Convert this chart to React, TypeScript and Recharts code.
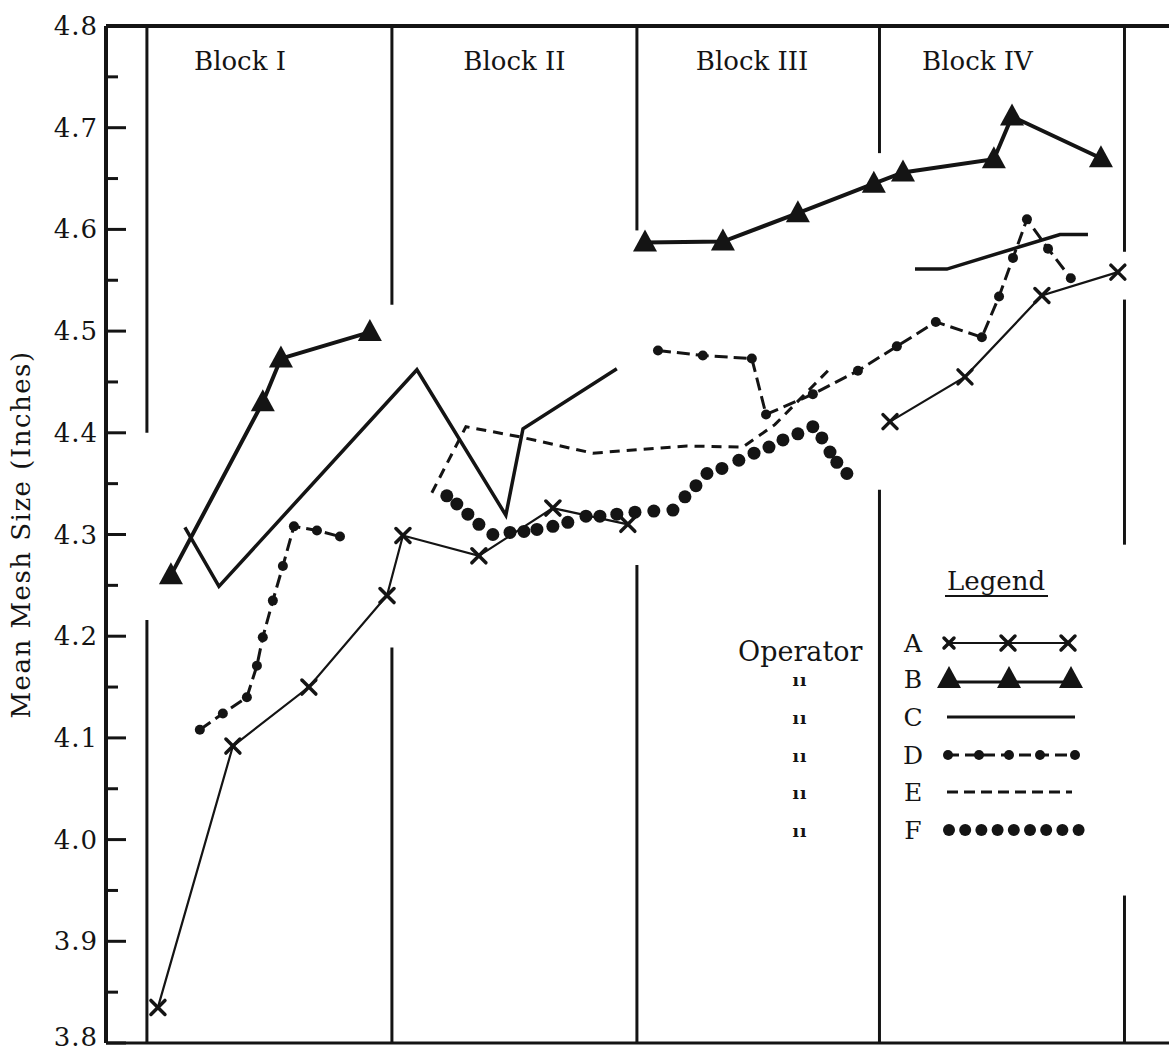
import {
  ComposedChart,
  Legend,
  Line,
  ReferenceDot,
  ReferenceLine,
  XAxis,
  YAxis,
} from 'recharts'

const ink = '#141414'
const serif = '"DejaVu Serif", serif'

// position along the trial (one block = 10 units) and mean mesh size
const runA = [0.45, 3.51, 6.61, 9.8, 10.45, 13.55, 16.57, 19.63, 25, 30.33, 33.39, 36.53, 39.63]
const meshA = [3.835, 4.092, 4.15, 4.24, 4.299, 4.279, 4.326, 4.31, null, 4.411, 4.455, 4.535, 4.558]

const runB = [0.98, 4.73, 5.47, 9.1, 15, 20.33, 23.51, 26.57, 29.67, 30.86, 34.57, 35.31, 38.94]
const meshB = [4.26, 4.43, 4.473, 4.499, null, 4.587, 4.588, 4.616, 4.645, 4.656, 4.669, 4.711, 4.67]

const runC = [1.55, 2.94, 11.02, 14.65, 15.35, 19.18, 25, 31.35, 32.65, 37.27, 38.41]
const meshC = [4.307, 4.249, 4.462, 4.319, 4.404, 4.463, null, 4.561, 4.561, 4.595, 4.595]

const runD = [
  2.16, 3.1, 4.08, 4.49, 4.73, 5.14, 5.55, 6.0, 6.94, 7.88, 14, 20.86, 22.69, 24.69, 25.27, 27.18,
  29.02, 30.61, 32.2, 34.08, 34.78, 35.35, 35.92, 36.78, 37.71,
]
const meshD = [
  4.108, 4.124, 4.14, 4.171, 4.199, 4.235, 4.269, 4.308, 4.304, 4.298, null, 4.481, 4.476, 4.473,
  4.418, 4.438, 4.461, 4.485, 4.509, 4.494, 4.534, 4.572, 4.61, 4.581, 4.552,
]

const runE = [11.63, 13.02, 15.22, 18.2, 22.04, 24.33, 25.63, 27.96]
const meshE = [4.341, 4.406, 4.396, 4.38, 4.387, 4.386, 4.408, 4.465]

const runF = [
  12.24, 12.65, 13.1, 13.55, 14.12, 14.82, 15.39, 15.92, 16.57, 17.18, 17.92, 18.49, 19.18, 19.92,
  20.69, 21.47, 21.96, 22.41, 22.86, 23.47, 24.16, 24.78, 25.39, 25.96, 26.57, 27.18, 27.55, 27.88,
  28.16, 28.57,
]
const meshF = [
  4.338, 4.33, 4.32, 4.31, 4.3, 4.302, 4.303, 4.305, 4.308, 4.312, 4.318, 4.318, 4.32, 4.322, 4.323,
  4.324, 4.337, 4.348, 4.36, 4.365, 4.373, 4.38, 4.386, 4.393, 4.399, 4.406, 4.395, 4.381, 4.371,
  4.36,
]

const meshTicks = [
  3.8, 3.85, 3.9, 3.95, 4.0, 4.05, 4.1, 4.15, 4.2, 4.25, 4.3, 4.35, 4.4, 4.45, 4.5, 4.55, 4.6, 4.65,
  4.7, 4.75, 4.8,
]

const operators = ['A', 'B', 'C', 'D', 'E', 'F']
const blockNames = ['Block I', 'Block II', 'Block III', 'Block IV']
const blockLabelRun = [3.8, 15.0, 24.7, 33.9]
const blockLabelMesh = 4.766

// block divider lines, broken where the curves pass
const blockEdges = [0, 10, 20, 29.9, 39.9]
const edgePieces = [
  [[4.8, 4.4], [4.216, 3.8]],
  [[4.8, 4.526], [4.189, 3.8]],
  [[4.8, 4.599], [4.27, 3.8]],
  [[4.8, 4.675], [4.344, 3.8]],
  [[4.8, 4.578], [4.531, 4.29], [3.945, 3.8]],
]

type Point = { x: number; y: number | null }
const zip = (xs: number[], ys: (number | null)[]): Point[] => xs.map((x, i) => ({ x, y: ys[i] }))

const seriesA = zip(runA, meshA)
const seriesB = zip(runB, meshB)
const seriesC = zip(runC, meshC)
const seriesD = zip(runD, meshD)
const seriesE = zip(runE, meshE)
const seriesF = zip(runF, meshF)

const isMajor = (v: number) => Math.round(v * 100) % 10 === 0

function LeftTick(props: any) {
  const { x, y, payload } = props
  const v = payload.value as number
  const major = isMajor(v)
  // the bottom label sits a little higher so it stays inside the page
  const dy = v <= 3.8 ? 3 : 9
  return (
    <g>
      <line x1={x + 6} x2={x + 6 + (major ? 20 : 12)} y1={y} y2={y} stroke={ink} strokeWidth={3} />
      {major && (
        <text
          x={x - 2}
          y={y}
          dy={dy}
          textAnchor="end"
          fontFamily={serif}
          fontSize={26}
          letterSpacing={1}
          fill={ink}
        >
          {v.toFixed(1)}
        </text>
      )}
    </g>
  )
}

function RightTick(props: any) {
  const { x, y, payload } = props
  const major = isMajor(payload.value)
  return <line x1={x} x2={x - (major ? 21 : 14)} y1={y} y2={y} stroke={ink} strokeWidth={3} />
}

function Cross({ cx, cy, s = 7 }: { cx: number; cy: number; s?: number }) {
  return (
    <g stroke={ink} strokeWidth={3.5} strokeLinecap="round">
      <line x1={cx - s} y1={cy - s} x2={cx + s} y2={cy + s} />
      <line x1={cx - s} y1={cy + s} x2={cx + s} y2={cy - s} />
    </g>
  )
}

function Triangle({ cx, cy }: { cx: number; cy: number }) {
  return <path d={`M${cx},${cy - 13} L${cx + 12},${cy + 9} L${cx - 12},${cy + 9} Z`} fill={ink} />
}

const crossDot = (p: any) =>
  p.cy == null || p.payload?.y == null ? <g key={p.key ?? p.index} /> : <Cross key={p.key ?? p.index} cx={p.cx} cy={p.cy} />

const triangleDot = (p: any) =>
  p.cy == null || p.payload?.y == null ? <g key={p.key ?? p.index} /> : <Triangle key={p.key ?? p.index} cx={p.cx} cy={p.cy} />

function OperatorLegend() {
  const rows = [103, 139, 177, 215, 252, 290]
  const s0 = 247
  const s1 = 375
  const mid = (s0 + s1) / 2
  return (
    <svg width={469} height={330} style={{ display: 'block', overflow: 'visible' }}>
      <text x={247} y={50} fontFamily={serif} fontSize={26} fill={ink}>
        Legend
      </text>
      <line x1={245} x2={348} y1={56} y2={56} stroke={ink} strokeWidth={2} />
      <text x={38} y={121} fontFamily={serif} fontSize={27} fill={ink}>
        Operator
      </text>
      {operators.map((op, i) => (
        <text key={op} x={213} y={rows[i] + 9} textAnchor="middle" fontFamily={serif} fontSize={25} fill={ink}>
          {op}
        </text>
      ))}
      {rows.slice(1).map((r) => (
        <text key={r} x={100} y={r + 7} textAnchor="middle" fontFamily={serif} fontWeight="bold" fontSize={17} letterSpacing={1} fill={ink}>
          ıı
        </text>
      ))}
      {/* A */}
      <line x1={s0} x2={s1 - 6} y1={rows[0]} y2={rows[0]} stroke={ink} strokeWidth={2} />
      <Cross cx={s0 + 2} cy={rows[0]} s={5} />
      <Cross cx={mid - 3} cy={rows[0]} />
      <Cross cx={s1 - 7} cy={rows[0]} />
      {/* B */}
      <line x1={s0} x2={s1 - 4} y1={rows[1] + 3} y2={rows[1] + 3} stroke={ink} strokeWidth={3} />
      <Triangle cx={s0 + 2} cy={rows[1]} />
      <Triangle cx={mid - 2} cy={rows[1]} />
      <Triangle cx={s1 - 4} cy={rows[1]} />
      {/* C */}
      <line x1={s0} x2={s1} y1={rows[2]} y2={rows[2]} stroke={ink} strokeWidth={3} />
      {/* D */}
      <line x1={s0} x2={s1} y1={rows[3]} y2={rows[3]} stroke={ink} strokeWidth={3} strokeDasharray="12 6" />
      {[0, 31, 61, 92, 127].map((d) => (
        <circle key={d} cx={s0 + 1 + d} cy={rows[3]} r={5} fill={ink} />
      ))}
      {/* E */}
      <line x1={s0} x2={s1 - 3} y1={rows[4]} y2={rows[4]} stroke={ink} strokeWidth={3} strokeDasharray="11 6" />
      {/* F */}
      {[0, 1, 2, 3, 4, 5, 6, 7, 8].map((k) => (
        <circle key={k} cx={s0 + 2 + k * 16.2} cy={rows[5]} r={6} fill={ink} />
      ))}
    </svg>
  )
}

const axisTitle = (props: any) => {
  const vb = props.viewBox
  const cx = vb.x + 11
  const cy = vb.y + vb.height / 2
  return (
    <text
      x={cx}
      y={cy}
      transform={`rotate(-90 ${cx} ${cy})`}
      textAnchor="middle"
      dominantBaseline="central"
      fontFamily={serif}
      fontSize={26}
      letterSpacing={1.5}
      fill={ink}
    >
      Mean Mesh Size (Inches)
    </text>
  )
}

export default function App() {
  return (
    <div
      style={{
        position: 'absolute',
        left: 0,
        top: 0,
        width: 1169,
        height: 1055,
        overflow: 'hidden',
        background: '#fff',
      }}
    >
      <ComposedChart width={1190} height={1055} margin={{ top: 26, right: 17, left: 10, bottom: 12 }}>
        <XAxis type="number" dataKey="x" domain={[-1.67, 41.84]} hide allowDataOverflow />
        <YAxis
          type="number"
          domain={[3.8, 4.8]}
          ticks={meshTicks}
          interval={0}
          width={96}
          tickSize={0}
          tickMargin={6}
          tickLine={false}
          tick={<LeftTick />}
          axisLine={{ stroke: ink, strokeWidth: 4 }}
          allowDataOverflow
          label={{ content: axisTitle }}
        />
        <YAxis
          yAxisId="right"
          orientation="right"
          type="number"
          domain={[3.8, 4.8]}
          ticks={meshTicks}
          interval={0}
          width={1}
          tickSize={0}
          tickMargin={0}
          tickLine={false}
          tick={<RightTick />}
          axisLine={false}
        />

        <ReferenceLine y={4.8} stroke={ink} strokeWidth={4} />
        <ReferenceLine y={3.8} stroke={ink} strokeWidth={3} />
        {blockEdges.map((bx, i) =>
          edgePieces[i].map(([y1, y2], j) => (
            <ReferenceLine
              key={`${i}-${j}`}
              segment={[
                { x: bx, y: y1 },
                { x: bx, y: y2 },
              ]}
              stroke={ink}
              strokeWidth={3}
            />
          )),
        )}
        {blockNames.map((name, i) => (
          <ReferenceDot
            key={name}
            x={blockLabelRun[i]}
            y={blockLabelMesh}
            r={0}
            stroke="none"
            label={{ value: name, position: 'center', fontFamily: serif, fontSize: 26, fill: ink }}
          />
        ))}

        <Line data={seriesC} dataKey="y" stroke={ink} strokeWidth={3.5} dot={false} isAnimationActive={false} />
        <Line
          data={seriesE}
          dataKey="y"
          stroke={ink}
          strokeWidth={3}
          strokeDasharray="10 7"
          dot={false}
          isAnimationActive={false}
        />
        <Line
          data={seriesD}
          dataKey="y"
          stroke={ink}
          strokeWidth={3}
          strokeDasharray="13 6"
          dot={{ r: 5, fill: ink, stroke: 'none' }}
          isAnimationActive={false}
        />
        <Line
          data={seriesF}
          dataKey="y"
          stroke="none"
          dot={{ r: 6.5, fill: ink, stroke: 'none' }}
          isAnimationActive={false}
        />
        <Line data={seriesA} dataKey="y" stroke={ink} strokeWidth={2.2} dot={crossDot} isAnimationActive={false} />
        <Line data={seriesB} dataKey="y" stroke={ink} strokeWidth={4} dot={triangleDot} isAnimationActive={false} />

        <Legend
          layout="vertical"
          align="center"
          verticalAlign="middle"
          content={() => <OperatorLegend />}
          wrapperStyle={{ left: 700, top: 540, width: 469, height: 330 }}
        />
      </ComposedChart>
    </div>
  )
}
